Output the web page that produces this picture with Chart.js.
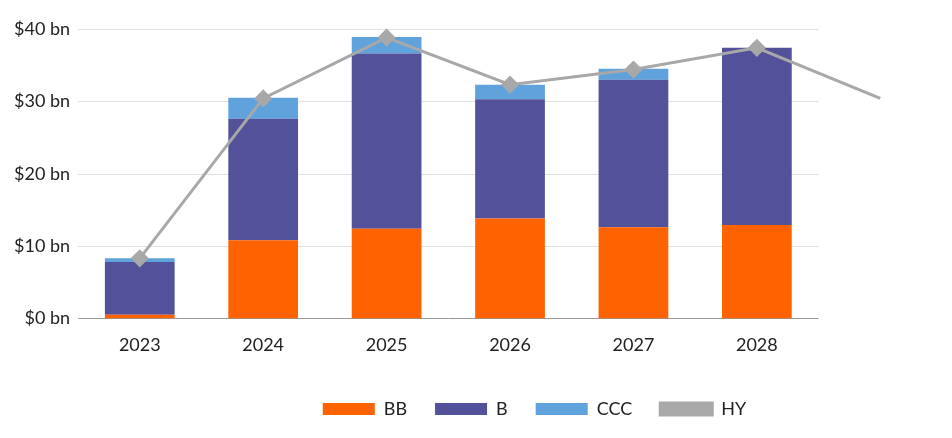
<!DOCTYPE html>
<html><head><meta charset="utf-8">
<script src="https://cdn.jsdelivr.net/npm/chart.js@4/dist/chart.umd.min.js"></script>
<style>html,body{margin:0;padding:0;background:#fff;overflow:hidden}#w{width:952px;height:438px}</style>
</head><body><div id="w"><canvas id="c"></canvas></div>
<script>
const categories = ['2023','2024','2025','2026','2027','2028','2029'];
const bb  = [0.5, 10.8, 12.4, 13.8, 12.6, 12.9, null];
const b   = [7.3, 16.8, 24.2, 16.5, 20.4, 24.5, null];
const ccc = [0.5, 2.9, 2.3, 2.0, 1.5, 0, null];
const hy  = [8.3, 30.4, 38.8, 32.3, 34.4, 37.4, 30.4];
const yTicks = [0,10,20,30,40];
const lastShown = 5;

Chart.defaults.font.family = 'Lato, "Open Sans", sans-serif';
Chart.defaults.font.size = 18;
Chart.defaults.color = '#222';

const gridPlugin = {
  id:'grid6',
  beforeDatasetsDraw(chart){
    const x = chart.scales.x, y = chart.scales.y, ctx = chart.ctx;
    const left = chart.chartArea.left;
    const half = (x.getPixelForValue(1) - x.getPixelForValue(0)) / 2;
    const right = x.getPixelForValue(lastShown) + half;
    ctx.save();
    ctx.lineWidth = 1;
    yTicks.forEach(v=>{
      const py = Math.round(y.getPixelForValue(v)) + 0.5;
      ctx.strokeStyle = v === 0 ? '#999' : '#E0E0E0';
      ctx.beginPath(); ctx.moveTo(left, py); ctx.lineTo(right, py); ctx.stroke();
    });
    ctx.restore();
  }
};

new Chart(document.getElementById('c'), {
  data: {
    labels: categories,
    datasets: [
      {type:'bar', label:'BB', data:bb, backgroundColor:'#FF6200', stack:'s', order:2},
      {type:'bar', label:'B', data:b, backgroundColor:'#525199', stack:'s', order:2},
      {type:'bar', label:'CCC', data:ccc, backgroundColor:'#5FA2DC', stack:'s', order:2},
      {type:'line', label:'HY', data:hy, borderColor:'#A8A8A8', backgroundColor:'#A8A8A8',
       borderWidth:3, pointStyle:'rectRot', pointRadius:[7,7,7,7,7,7,0], pointHoverRadius:7,
       clip:false, order:1}
    ]
  },
  options: {
    responsive:true, maintainAspectRatio:false, animation:false,
    layout:{padding:{top:29,right:-111,left:6,bottom:10}},
    datasets:{bar:{categoryPercentage:1, barPercentage:0.565}},
    scales:{
      x:{stacked:true, grid:{display:false, drawTicks:false}, border:{display:false},
         ticks:{padding:16, callback:(v,i)=> i<=lastShown ? categories[i] : ''}},
      y:{stacked:true, min:0, max:40, afterBuildTicks:s=>{s.ticks=yTicks.map(v=>({value:v}));},
         grid:{display:false, drawTicks:false}, border:{display:false},
         ticks:{padding:8, callback:v=>'$'+v+' bn'}}
    },
    plugins:{
      legend:{position:'bottom', labels:{boxWidth:52, boxHeight:12, padding:28,
        sort:(a,b)=>a.datasetIndex-b.datasetIndex}},
      tooltip:{enabled:false}
    }
  },
  plugins:[gridPlugin]
});
</script></body></html>
